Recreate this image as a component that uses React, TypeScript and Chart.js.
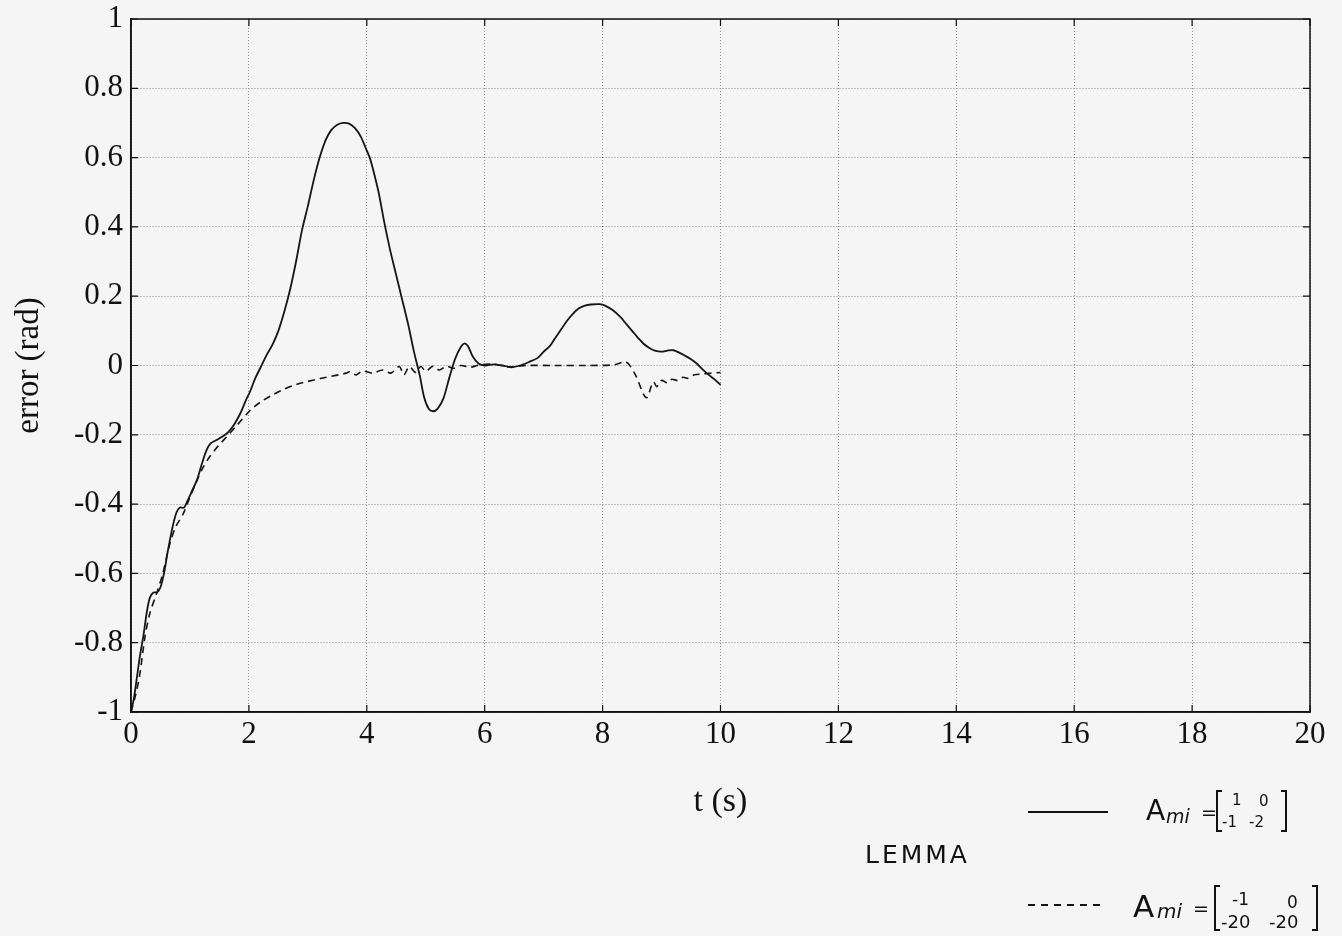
import React, { useEffect, useRef } from 'react';
import { Chart, registerables } from 'chart.js';

Chart.register(...registerables);

// ---- data ----
const solidT = [0, 0.05, 0.1, 0.15, 0.21, 0.27, 0.32, 0.38, 0.44, 0.5, 0.56, 0.62, 0.7, 0.77, 0.83, 0.9, 0.96, 1.04, 1.12, 1.2, 1.28, 1.35, 1.45, 1.55, 1.65, 1.75, 1.85, 1.95, 2.02, 2.1, 2.2, 2.3, 2.4, 2.5, 2.6, 2.7, 2.8, 2.9, 3.0, 3.1, 3.2, 3.3, 3.4, 3.5, 3.6, 3.7, 3.8, 3.9, 4.0, 4.05, 4.1, 4.2, 4.3, 4.4, 4.5, 4.6, 4.7, 4.8, 4.9, 4.97, 5.05, 5.12, 5.2, 5.3, 5.4, 5.5, 5.6, 5.66, 5.72, 5.8, 5.9, 6.0, 6.15, 6.3, 6.45, 6.6, 6.75, 6.9, 7.0, 7.1, 7.2, 7.3, 7.4, 7.5, 7.6, 7.7, 7.8, 7.95, 8.05, 8.17, 8.3, 8.4, 8.5, 8.6, 8.7, 8.8, 8.9, 9.0, 9.1, 9.2, 9.3, 9.4, 9.5, 9.6, 9.7, 9.8, 9.9, 10.0];
const solidY = [-1, -0.96, -0.9, -0.84, -0.78, -0.71, -0.67, -0.655, -0.655, -0.64, -0.6, -0.54, -0.47, -0.425, -0.41, -0.41, -0.39, -0.36, -0.33, -0.285, -0.245, -0.225, -0.215, -0.205, -0.192, -0.17, -0.14, -0.1, -0.075, -0.04, -0.005, 0.03, 0.06, 0.1, 0.155, 0.22, 0.3, 0.39, 0.46, 0.535, 0.6, 0.65, 0.68, 0.695, 0.7, 0.698, 0.685, 0.66, 0.62, 0.6, 0.57, 0.5, 0.41, 0.33, 0.26, 0.19, 0.12, 0.04, -0.03, -0.09, -0.125, -0.132, -0.125, -0.095, -0.035, 0.02, 0.055, 0.064, 0.055, 0.025, 0.005, 0.0, 0.003, 0.0, -0.005, 0.0, 0.01, 0.022, 0.04, 0.055, 0.08, 0.105, 0.13, 0.15, 0.165, 0.173, 0.176, 0.177, 0.172, 0.16, 0.14, 0.12, 0.1, 0.08, 0.062, 0.05, 0.042, 0.04, 0.043, 0.044, 0.037, 0.028, 0.018, 0.005, -0.012, -0.027, -0.04, -0.056];

const dashedT = [0, 0.08, 0.15, 0.24, 0.32, 0.43, 0.54, 0.65, 0.76, 0.88, 1.0, 1.11, 1.22, 1.34, 1.48, 1.62, 1.8, 2.02, 2.2, 2.4, 2.6, 2.8, 3.0, 3.2, 3.4, 3.55, 3.65, 3.71, 3.82, 3.93, 4.1, 4.27, 4.41, 4.55, 4.63, 4.72, 4.83, 4.92, 5.0, 5.12, 5.23, 5.35, 5.47, 5.6, 5.75, 5.9, 6.14, 6.42, 6.7, 7.2, 7.7, 8.2, 8.4, 8.55, 8.74, 8.86, 8.92, 9.0, 9.1, 9.17, 9.28, 9.36, 9.45, 9.56, 9.68, 9.85, 10.0];
const dashedY = [-1, -0.95, -0.89, -0.78, -0.715, -0.66, -0.6, -0.52, -0.465, -0.43, -0.38, -0.335, -0.295, -0.262, -0.232, -0.206, -0.172, -0.13, -0.105, -0.085, -0.068, -0.055, -0.046, -0.038, -0.031, -0.026, -0.022, -0.018, -0.027, -0.016, -0.022, -0.013, -0.022, -0.003, -0.027, -0.003, -0.02, -0.003, -0.017, -0.002, -0.013, -0.002, -0.008, 0.0, -0.005, 0.001, 0.004, -0.004, 0.0, 0.0, 0.0, 0.002, 0.01, -0.025, -0.093, -0.047, -0.061, -0.043, -0.05, -0.04, -0.043, -0.034, -0.037, -0.027, -0.025, -0.022, -0.02];

const xTicks = [0, 2, 4, 6, 8, 10, 12, 14, 16, 18, 20];
const yTicks = [-1, -0.8, -0.6, -0.4, -0.2, 0, 0.2, 0.4, 0.6, 0.8, 1];
const yTickLabels = ['-1', '-0.8', '-0.6', '-0.4', '-0.2', '0', '0.2', '0.4', '0.6', '0.8', '1'];

const boxPlugin = {
  id: 'boxAndTicks',
  afterDraw(chart: any) {
    const { ctx, chartArea } = chart;
    const { left, right, top, bottom } = chartArea;
    ctx.save();
    ctx.strokeStyle = '#111';
    ctx.lineWidth = 1.5;
    ctx.strokeRect(left, top, right - left, bottom - top);
    const xs = chart.scales.x;
    const ys = chart.scales.y;
    const len = 7;
    ctx.beginPath();
    xTicks.forEach((v) => {
      const px = xs.getPixelForValue(v);
      ctx.moveTo(px, bottom);
      ctx.lineTo(px, bottom - len);
      ctx.moveTo(px, top);
      ctx.lineTo(px, top + len);
    });
    yTicks.forEach((v) => {
      const py = ys.getPixelForValue(v);
      ctx.moveTo(left, py);
      ctx.lineTo(left + len, py);
      ctx.moveTo(right, py);
      ctx.lineTo(right - len, py);
    });
    ctx.lineWidth = 1.2;
    ctx.stroke();
    ctx.restore();
  },
};

function ErrorChart() {
  const ref = useRef<HTMLCanvasElement | null>(null);
  useEffect(() => {
    if (!ref.current) return;
    const serif = "'Liberation Serif', 'DejaVu Serif', serif";
    const chart = new Chart(ref.current, {
      type: 'line',
      data: {
        datasets: [
          {
            label: 'solid',
            data: solidT.map((t, i) => ({ x: t, y: solidY[i] })),
            borderColor: '#151515',
            borderWidth: 1.8,
            pointRadius: 0,
            tension: 0.3,
            fill: false,
          },
          {
            label: 'dashed',
            data: dashedT.map((t, i) => ({ x: t, y: dashedY[i] })),
            borderColor: '#151515',
            borderWidth: 1.6,
            borderDash: [7, 5],
            pointRadius: 0,
            tension: 0.3,
            fill: false,
          },
        ],
      },
      options: {
        animation: false,
        responsive: false,
        layout: { padding: { left: 0, top: 19, right: 32, bottom: 0 } },
        plugins: { legend: { display: false }, tooltip: { enabled: false }, title: { display: false } },
        scales: {
          x: {
            type: 'linear',
            min: 0,
            max: 20,
            afterBuildTicks: (s: any) => {
              s.ticks = xTicks.map((v) => ({ value: v }));
            },
            afterFit: (s: any) => {
              s.height = 224;
              s.paddingLeft = 0;
              s.paddingRight = 0;
            },
            ticks: {
              font: { family: serif, size: 31 },
              color: '#111',
              padding: 4,
              maxRotation: 0,
              autoSkip: false,
              callback: (v: any) => String(v),
            },
            grid: { color: '#8c8c8c', lineWidth: 1, drawTicks: false },
            border: { display: true, color: '#111', width: 1.5, dash: [1, 2] },
            title: {
              display: true,
              text: 't (s)',
              font: { family: serif, size: 34 },
              color: '#111',
              padding: { top: 0, bottom: 114 },
            },
          },
          y: {
            type: 'linear',
            min: -1,
            max: 1,
            afterBuildTicks: (s: any) => {
              s.ticks = yTicks.map((v) => ({ value: v }));
            },
            afterFit: (s: any) => {
              s.width = 131;
              s.paddingTop = 0;
              s.paddingBottom = 0;
            },
            ticks: {
              font: { family: serif, size: 31 },
              color: '#111',
              padding: 8,
              autoSkip: false,
              callback: (v: any) => {
                const idx = yTicks.findIndex((t) => Math.abs(t - v) < 1e-6);
                return idx >= 0 ? yTickLabels[idx] : '';
              },
            },
            grid: { color: '#8c8c8c', lineWidth: 1, drawTicks: false },
            border: { display: true, color: '#111', width: 1.5, dash: [1, 2] },
            title: {
              display: true,
              text: 'error (rad)',
              font: { family: serif, size: 33 },
              color: '#111',
              padding: { top: 10, bottom: 0 },
            },
          },
        },
      },
      plugins: [boxPlugin],
    });
    return () => chart.destroy();
  }, []);
  return <canvas ref={ref} width={1342} height={936} style={{ position: 'absolute', left: 0, top: 0, width: 1342, height: 936 }} />;
}

const hand = "'DejaVu Sans', 'Noto Sans', sans-serif";

function Txt(props: { x: number; y: number; size: number; text: string; italic?: boolean; spacing?: number }) {
  return (
    <div
      style={{
        position: 'absolute',
        left: props.x,
        top: props.y,
        fontFamily: hand,
        fontSize: props.size,
        lineHeight: 1,
        whiteSpace: 'pre',
        color: '#111',
        fontStyle: props.italic ? 'italic' : 'normal',
        letterSpacing: props.spacing || 0,
      }}
    >
      {props.text}
    </div>
  );
}

function Bracket(props: { x: number; y: number; w: number; h: number }) {
  const common = { position: 'absolute' as const, top: props.y, width: 6, height: props.h, borderTop: '2px solid #111', borderBottom: '2px solid #111', boxSizing: 'border-box' as const };
  return (
    <>
      <div style={{ ...common, left: props.x, borderLeft: '2px solid #111' }} />
      <div style={{ ...common, left: props.x + props.w - 6, borderRight: '2px solid #111' }} />
    </>
  );
}

function Legend() {
  return (
    <>
      <Txt x={865} y={842} size={25} text="LEMMA" spacing={3} />

      <div style={{ position: 'absolute', left: 1028, top: 811, width: 80, height: 2, background: '#111' }} />
      <Txt x={1146} y={797} size={28} text="A" />
      <Txt x={1166} y={807} size={19} text="mi" italic />
      <Txt x={1201} y={803} size={19} text="=" />
      <Bracket x={1216} y={790} w={71} h={42} />
      <Txt x={1232} y={793} size={15} text="1" />
      <Txt x={1259} y={794} size={15} text="0" />
      <Txt x={1222} y={815} size={15} text="-1" />
      <Txt x={1249} y={815} size={15} text="-2" />

      <div
        style={{
          position: 'absolute',
          left: 1028,
          top: 904,
          width: 78,
          height: 2,
          background: 'repeating-linear-gradient(to right, #111 0px, #111 7px, transparent 7px, transparent 13px)',
        }}
      />
      <Txt x={1133} y={891} size={31} text="A" />
      <Txt x={1157} y={901} size={20} text="mi" italic />
      <Txt x={1193} y={899} size={19} text="=" />
      <Bracket x={1214} y={885} w={104} h={46} />
      <Txt x={1232} y={891} size={17} text="-1" />
      <Txt x={1287} y={894} size={17} text="0" />
      <Txt x={1221} y={913} size={18} text="-20" />
      <Txt x={1269} y={913} size={18} text="-20" />
    </>
  );
}

export default function App() {
  return (
    <div style={{ position: 'fixed', left: 0, top: 0, width: 1342, height: 936, background: '#f5f5f5', overflow: 'hidden' }}>
      <ErrorChart />
      <Legend />
    </div>
  );
}
